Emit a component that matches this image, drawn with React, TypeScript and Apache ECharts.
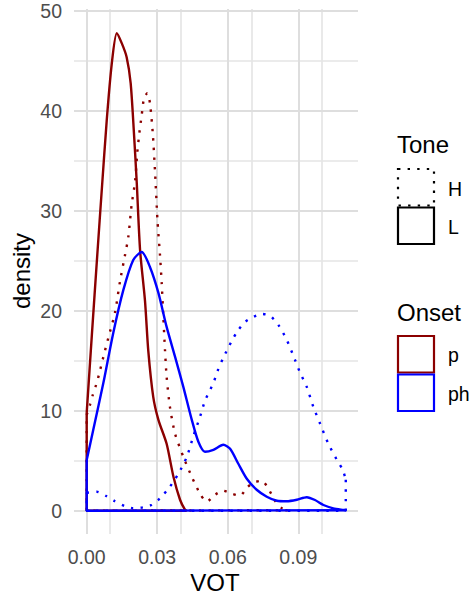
import React, { useEffect, useRef } from "react";
import * as echarts from "echarts";

// Kernel density estimates of VOT (seconds), by onset and tone.
// Each list holds [VOT, density] pairs along the curve.
const pHighDensity: number[][] = [
  [0, 9.6], [0.0014, 10.6], [0.0026, 11.6], [0.004, 12.6], [0.0052, 13.6], [0.0071, 15.4],
  [0.0092, 17.3], [0.012, 19.8], [0.0142, 23.0], [0.0163, 25.6], [0.0177, 27.4], [0.0191, 30.6],
  [0.0206, 33.0], [0.0215, 35.8], [0.0224, 37.8], [0.0234, 39.6], [0.0244, 41.3], [0.0258, 41.8],
  [0.0269, 40.8], [0.0281, 37.8], [0.0291, 33.8], [0.0301, 29.1], [0.0312, 25.5], [0.0319, 22.8],
  [0.0326, 19.4], [0.0333, 16.1], [0.034, 13.4], [0.0354, 10.4], [0.0376, 7.7], [0.0411, 5.4],
  [0.0447, 3.4], [0.0482, 1.7], [0.0511, 0.9], [0.0546, 1.6], [0.0581, 2.0], [0.0617, 1.7],
  [0.0652, 1.5], [0.0681, 2.3], [0.0709, 2.8], [0.0745, 3.0], [0.0773, 2.2], [0.0801, 1.0],
  [0.083, 0.25], [0.0855, 0.05],
];

const pLowDensity: number[][] = [
  [0, 9.8], [0.0022, 17.6], [0.0045, 25.6], [0.0065, 32.4], [0.0085, 39.0], [0.0106, 44.6],
  [0.0128, 47.8], [0.0149, 46.8], [0.017, 45.4], [0.0187, 42.8], [0.0201, 37.8],
  [0.0213, 32.8], [0.0227, 26.1], [0.0248, 21.0], [0.0262, 16.0], [0.0283, 11.4], [0.0305, 9.1],
  [0.034, 6.7], [0.0369, 3.4], [0.0397, 1.1], [0.0418, 0.1], [0.0425, 0],
];

const phHighDensity: number[][] = [
  [0, 1.8], [0.0043, 1.9], [0.0085, 1.45], [0.012, 0.95], [0.0163, 0.45], [0.0198, 0.25],
  [0.0241, 0.34], [0.0277, 0.6], [0.0312, 1.24], [0.0354, 2.4], [0.039, 3.7], [0.0426, 5.4],
  [0.0454, 7.5], [0.0482, 9.4], [0.0503, 11.0], [0.0539, 12.8], [0.056, 14.2], [0.0581, 15.3],
  [0.0617, 17.0], [0.0645, 18.1], [0.0674, 18.9], [0.0709, 19.4], [0.0745, 19.7], [0.078, 19.5],
  [0.0815, 18.6], [0.0851, 17.1], [0.0886, 15.1], [0.0908, 13.8], [0.0936, 12.4], [0.0964, 10.4],
  [0.0993, 8.7], [0.1028, 6.7], [0.1064, 5.1], [0.1089, 4.1], [0.1102, 3.1],
];

const phLowDensity: number[][] = [
  [0, 5.07], [0.0028, 8.1], [0.0071, 12.8], [0.0113, 17.8], [0.0156, 22.1], [0.0198, 25.1],
  [0.0234, 25.9], [0.0269, 24.4], [0.0305, 21.8], [0.034, 18.4], [0.0376, 15.4], [0.0411, 12.4],
  [0.0447, 9.1], [0.0475, 6.9], [0.0503, 5.9], [0.0539, 6.1], [0.0581, 6.6], [0.061, 6.2],
  [0.0645, 4.7], [0.0681, 3.2], [0.0723, 2.1], [0.0766, 1.4], [0.0809, 1.0], [0.0851, 0.95],
  [0.0894, 1.1], [0.0936, 1.35], [0.0971, 1.07], [0.1007, 0.57], [0.1049, 0.24], [0.1092, 0.08],
  [0.1102, 0.05],
];

const xTicks = [0, 0.03, 0.06, 0.09];
const xMinorTicks = [0.015, 0.045, 0.075, 0.105];
const yTicks = [0, 10, 20, 30, 40, 50];
const yMinorTicks = [5, 15, 25, 35, 45];

const toneLevels = ["H", "L"];
const onsetLevels = ["p", "ph"];

const FONT = '"Liberation Sans", Arial, Helvetica, sans-serif';
const DARK_RED = "#8b0000";
const BLUE = "#0000ff";
const LINE_W = 2.4;
const DOTS = [2.4, 7.2];

function densitySeries(pts: number[][], color: string, dotted: boolean) {
  const first = pts[0];
  const last = pts[pts.length - 1];
  const lineStyle = { color, width: LINE_W, type: dotted ? DOTS : "solid", cap: "butt" };
  return [
    {
      type: "line",
      data: pts,
      smooth: 0.25,
      symbol: "none",
      showSymbol: false,
      silent: true,
      z: 3,
      lineStyle,
    },
    {
      // closing outline: down to the baseline, along it, and back up
      type: "line",
      data: [
        [last[0], last[1]],
        [last[0], 0],
        [first[0], 0],
        [first[0], first[1]],
      ],
      smooth: false,
      symbol: "none",
      showSymbol: false,
      silent: true,
      z: 3,
      lineStyle,
    },
  ];
}

function gridLines() {
  const major = { color: "#dedede", width: 2, type: "solid" };
  const minor = { color: "#e4e4e4", width: 1.6, type: "solid" };
  return {
    type: "line",
    data: [],
    symbol: "none",
    silent: true,
    z: 0,
    markLine: {
      silent: true,
      z: 0,
      symbol: ["none", "none"],
      label: { show: false },
      emphasis: { disabled: true },
      animation: false,
      data: [
        ...xMinorTicks.map((v) => ({ xAxis: v, lineStyle: minor })),
        ...yMinorTicks.map((v) => ({ yAxis: v, lineStyle: minor })),
        ...xTicks.map((v) => ({ xAxis: v, lineStyle: major })),
        ...yTicks.map((v) => ({ yAxis: v, lineStyle: major })),
      ],
    },
  };
}

function legendGraphics() {
  const keyX = 397;
  const keyW = 38;
  const keyH = 38.5;
  const textX = 448;
  const items: any[] = [];
  const title = (t: string, y: number) => ({
    type: "text",
    x: keyX,
    y,
    style: { text: t, fontFamily: FONT, fontSize: 24, fill: "#000", align: "left", verticalAlign: "middle" },
  });
  const label = (t: string, y: number) => ({
    type: "text",
    x: textX,
    y,
    style: { text: t, fontFamily: FONT, fontSize: 19.5, fill: "#000", align: "left", verticalAlign: "middle" },
  });
  const key = (y: number, stroke: string, dash: number[] | null) => ({
    type: "rect",
    shape: { x: keyX + 1, y: y + 1, width: keyW - 2, height: keyH - 2 },
    style: { fill: "none", stroke, lineWidth: 2.2, lineDash: dash || undefined },
  });

  items.push(title("Tone", 144));
  const toneTop = 168;
  toneLevels.forEach((lv, i) => {
    const y = toneTop + i * keyH;
    items.push(key(y, "#000", lv === "H" ? DOTS : null));
    items.push(label(lv, y + keyH / 2 + 1.5));
  });

  items.push(title("Onset", 312));
  const onsetTop = 335;
  onsetLevels.forEach((lv, i) => {
    const y = onsetTop + i * keyH;
    items.push(key(y, lv === "p" ? DARK_RED : BLUE, null));
    items.push(label(lv, y + keyH / 2 + 1));
  });

  // axis titles
  items.push({
    type: "text",
    x: 215,
    y: 582,
    style: { text: "VOT", fontFamily: FONT, fontSize: 24, fill: "#000", align: "center", verticalAlign: "middle" },
  });
  items.push({
    type: "text",
    x: 21,
    y: 271,
    rotation: Math.PI / 2,
    style: { text: "density", fontFamily: FONT, fontSize: 24, fill: "#000", align: "center", verticalAlign: "middle" },
  });
  return items;
}

export default function App() {
  const ref = useRef<HTMLDivElement>(null);

  useEffect(() => {
    if (!ref.current) return;
    const chart = echarts.init(ref.current, null, { renderer: "svg" });
    const tickLabel = { color: "#4d4d4d", fontFamily: FONT, fontSize: 19.5 };
    chart.setOption({
      animation: false,
      backgroundColor: "#ffffff",
      grid: { left: 74, right: 116, top: 9, bottom: 65, containLabel: false },
      xAxis: {
        type: "value",
        min: -0.0054,
        max: 0.1154,
        axisLine: { show: false },
        axisTick: { show: false },
        splitLine: { show: false },
        axisLabel: {
          ...tickLabel,
          margin: 13,
          customValues: xTicks,
          formatter: (v: number) => v.toFixed(2),
        },
      },
      yAxis: {
        type: "value",
        min: -2.33,
        max: 50.22,
        axisLine: { show: false },
        axisTick: { show: false },
        splitLine: { show: false },
        axisLabel: {
          ...tickLabel,
          margin: 12,
          customValues: yTicks,
          formatter: (v: number) => String(v),
        },
      },
      series: [
        gridLines(),
        ...densitySeries(pHighDensity, DARK_RED, true),
        ...densitySeries(pLowDensity, DARK_RED, false),
        ...densitySeries(phHighDensity, BLUE, true),
        ...densitySeries(phLowDensity, BLUE, false),
      ],
      graphic: legendGraphics(),
    });
    return () => chart.dispose();
  }, []);

  return <div ref={ref} style={{ width: 474, height: 599, position: "absolute", left: 0, top: 0 }} />;
}
